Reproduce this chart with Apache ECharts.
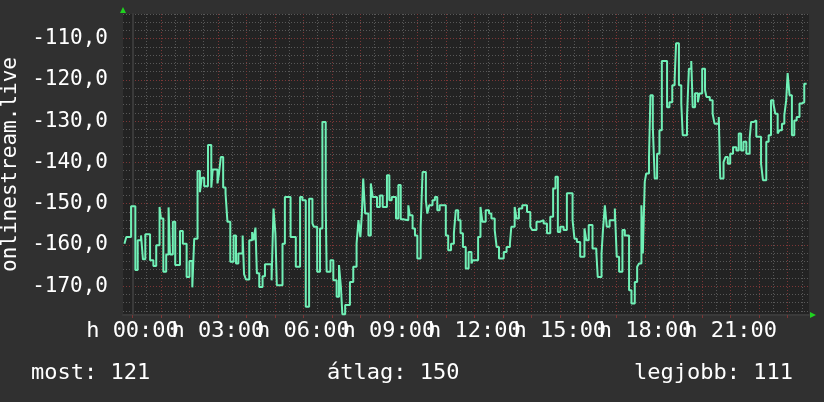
<!DOCTYPE html>
<html>
<head>
<meta charset="utf-8">
<script src="https://cdn.jsdelivr.net/npm/echarts@6/dist/echarts.min.js"></script>
<style>
html,body{margin:0;padding:0;background:#303030;}
#chart{width:824px;height:402px;}
</style>
</head>
<body>
<div id="chart"></div>
<script>
// ---- data (minutes after 00:00, value) ----
const sampleMinutes = [
  -17,-13,-3,6,11,18,22,27,37,44,50,57,60,65,71,76,79,85,90,100,
  106,114,120,126,130,137,142,146,151,159,166,169,179,182,186,191,196,200,206,213,
  218,223,232,235,239,246,252,255,259,262,267,274,279,293,297,301,304,316,321,333,
  344,353,358,365,372,379,382,389,395,400,407,409,417,423,430,435,439,442,448,458,
  465,472,476,480,483,486,490,497,502,506,515,521,527,536,541,546,555,560,565,570,
  581,584,590,595,600,607,611,618,621,625,632,637,642,647,660,665,671,677,681,686,
  691,696,702,708,714,717,728,733,737,744,751,756,763,767,772,782,788,795,798,805,
  809,814,821,831,838,842,851,858,866,873,880,886,891,896,901,908,915,927,931,936,
  943,952,956,961,969,977,980,988,991,995,999,1005,1016,1020,1025,1032,1037,1046,1051,1058,
  1063,1067,1072,1075,1079,1082,1088,1091,1096,1100,1105,1110,1115,1126,1131,1137,1142,1145,1151,1156,
  1159,1168,1172,1177,1180,1185,1191,1194,1200,1206,1209,1216,1222,1226,1235,1238,1245,1249,1254,1259,
  1265,1272,1277,1282,1287,1293,1300,1303,1308,1314,1324,1328,1335,1340,1345,1350,1354,1359,1363,1368,
  1373,1377,1380,1384,1389,1394,1399,1405,1410,1415,1420
];
const signal = [
  -159.7,-158.1,-150.6,-166.1,-158.9,-157.7,-163.5,-157.4,-163.7,-165.1,-160.1,-150.8,-153.6,-166.5,-162.3,-150.9,-162.3,-154.4,-164.9,-156.6,
  -159.7,-167.8,-163.9,-170.3,-158.5,-142.1,-147.2,-143.7,-145.8,-135.8,-146.1,-141.7,-145.1,-142.9,-138.7,-146.1,-147.5,-154.4,-164.1,-157.7,
  -164.5,-162.1,-157.7,-167.1,-168.4,-158.9,-156.9,-158.9,-155.8,-166.9,-170.2,-167.6,-164.7,-168.6,-151.2,-157.2,-169.8,-159.7,-148.4,-158.1,
  -165.3,-148.4,-149.2,-175.0,-148.8,-154.8,-155.6,-166.5,-156.0,-130.2,-150.0,-166.5,-163.7,-168.6,-172.6,-164.9,-170.2,-176.8,-174.6,-169.0,
  -165.3,-159.7,-154.0,-158.1,-152.8,-143.9,-152.4,-157.7,-145.1,-148.4,-150.8,-148.0,-150.8,-143.1,-149.2,-148.4,-153.6,-145.5,-153.8,-154.0,
  -150.4,-152.8,-156.0,-157.7,-163.3,-155.6,-142.3,-149.2,-152.4,-150.4,-149.2,-148.4,-151.6,-150.4,-157.7,-161.3,-159.7,-157.2,-151.6,-154.0,
  -157.2,-160.5,-165.7,-161.7,-164.5,-163.7,-158.1,-150.8,-154.4,-151.6,-152.4,-153.6,-156.4,-160.5,-163.3,-161.7,-160.5,-159.7,-155.6,-150.8,
  -153.6,-151.2,-150.4,-152.0,-155.6,-156.4,-154.4,-154.0,-154.8,-157.2,-153.2,-146.3,-143.5,-156.9,-155.6,-156.4,-147.5,-154.0,-158.5,-159.3,
  -162.9,-156.0,-158.9,-155.2,-160.9,-161.7,-167.8,-162.1,-156.4,-150.4,-155.6,-154.0,-151.2,-162.9,-166.5,-156.4,-157.7,-171.0,-174.2,-169.0,
  -165.3,-164.5,-150.4,-162.1,-144.7,-142.7,-138.7,-123.7,-131.4,-143.9,-137.9,-132.2,-115.4,-126.6,-125.4,-121.3,-119.7,-111.1,-121.3,-125.7,
  -133.4,-129.0,-117.3,-115.4,-126.6,-123.2,-125.4,-123.3,-117.3,-122.5,-124.1,-124.9,-128.2,-130.6,-129.0,-143.9,-139.9,-138.7,-140.3,-137.9,
  -136.3,-137.1,-133.0,-137.1,-135.0,-137.9,-134.2,-130.2,-129.8,-133.8,-140.3,-144.3,-135.0,-133.4,-124.9,-125.7,-128.2,-133.0,-132.2,-130.6,
  -128.6,-124.9,-118.3,-123.7,-133.4,-129.8,-129.0,-125.7,-125.4,-120.9,-120.9
];
const xTickMinutes = [0, 180, 360, 540, 720, 900, 1080, 1260];
const xTickLabels = ['h 00:00','h 03:00','h 06:00','h 09:00','h 12:00','h 15:00','h 18:00','h 21:00'];
const yTickValues = [-170, -160, -150, -140, -130, -120, -110];
const yTickLabels = ['-170,0','-160,0','-150,0','-140,0','-130,0','-120,0','-110,0'];
const yTitle = 'onlinestream.live';
const summaryLabels = ['most: 121', 'átlag: 150', 'legjobb: 111'];

// ---- axis scaffolding ----
const X_MIN = -20, X_MAX = 1425, X_STEP = 5;
const Y_MIN = -177, Y_MAX = -104;
const xSlots = [];
for (let m = X_MIN; m <= X_MAX; m += X_STEP) xSlots.push(String(m));
const ySlots = [];
for (let v = Y_MIN; v <= Y_MAX; v += 1) ySlots.push(String(v));

const FONT = '"DejaVu Sans Mono", monospace';
const MAJOR = '#7c3636';
const MINOR = '#585858';
const ARROW = '#1fd21f';
const AXIS = '#3a3a3a';

const seriesData = sampleMinutes.map((m, i) => [m, signal[i]]);

// labels split over two axes (alternating) so that neighbouring labels may overlap like the original
const labelOnAxis = (parity) => (i, v) => {
  const k = xTickMinutes.indexOf(+v);
  return k >= 0 && k % 2 === parity;
};
const labelText = (v) => { const k = xTickMinutes.indexOf(+v); return k >= 0 ? xTickLabels[k] : ''; };
const xLabelStyle = {color: '#ffffff', fontFamily: FONT, fontSize: 22, margin: 5, hideOverlap: false};

const chart = echarts.init(document.getElementById('chart'), null, {renderer: 'canvas'});
const summaryX = [31, 327, 634];

chart.setOption({
  animation: false,
  backgroundColor: '#303030',
  grid: {
    left: 123, top: 14, width: 686, height: 301,
    show: true, backgroundColor: '#232323', borderWidth: 0,
    containLabel: false, outerBoundsMode: 'none'
  },
  xAxis: [
    {
      type: 'category', data: xSlots, boundaryGap: false, position: 'bottom',
      axisLine: {show: true, lineStyle: {color: AXIS, width: 2}},
      axisTick: {show: true, length: 3, interval: (i, v) => (+v) % 60 === 0,
                 lineStyle: {color: MAJOR, width: 1}},
      axisLabel: Object.assign({show: true, interval: labelOnAxis(0), formatter: labelText}, xLabelStyle),
      splitLine: {show: true, interval: (i, v) => (+v) % 60 === 0,
                  lineStyle: {color: MAJOR, width: 1, type: [1, 2]}}
    },
    {
      type: 'category', data: xSlots, boundaryGap: false, position: 'bottom',
      axisLine: {show: false}, axisTick: {show: false},
      axisLabel: Object.assign({show: true, interval: labelOnAxis(1), formatter: labelText}, xLabelStyle),
      splitLine: {show: true, interval: (i, v) => (+v) % 30 === 0 && (+v) % 60 !== 0,
                  lineStyle: {color: MINOR, width: 1, type: [1, 2]}}
    },
    {
      type: 'value', min: X_MIN, max: X_MAX, position: 'bottom',
      axisLine: {show: true, symbol: ['none', 'triangle'], symbolSize: [6, 6], symbolOffset: [0, 4],
                 lineStyle: {color: ARROW, width: 0}},
      axisTick: {show: false}, axisLabel: {show: false}, splitLine: {show: false}
    }
  ],
  yAxis: [
    {
      type: 'category', data: ySlots, boundaryGap: false, position: 'left',
      name: yTitle, nameLocation: 'middle', nameGap: 93,
      nameTextStyle: {color: '#ffffff', fontFamily: FONT, fontSize: 21},
      axisLine: {show: true, lineStyle: {color: AXIS, width: 2}},
      axisTick: {show: false},
      axisLabel: {
        show: true, interval: (i, v) => yTickValues.indexOf(+v) >= 0,
        formatter: (v) => { const k = yTickValues.indexOf(+v); return k >= 0 ? yTickLabels[k] : ''; },
        color: '#ffffff', fontFamily: FONT, fontSize: 21, margin: 15, hideOverlap: false
      },
      splitLine: {show: true, interval: (i, v) => (+v) % 10 === 0,
                  lineStyle: {color: MAJOR, width: 1, type: [1, 2]}}
    },
    {
      type: 'category', data: ySlots, boundaryGap: false, position: 'left',
      axisLine: {show: false}, axisTick: {show: false}, axisLabel: {show: false},
      splitLine: {show: true, interval: (i, v) => (+v) % 2 === 0 && (+v) % 10 !== 0,
                  lineStyle: {color: MINOR, width: 1, type: [1, 2]}}
    },
    {
      type: 'value', min: Y_MIN, max: Y_MAX, position: 'left',
      axisLine: {show: true, symbol: ['none', 'triangle'], symbolSize: [6, 6], symbolOffset: [0, 4],
                 lineStyle: {color: ARROW, width: 0}},
      axisTick: {show: false}, axisLabel: {show: false}, splitLine: {show: false}
    }
  ],
  graphic: summaryLabels.map((t, i) => ({
    type: 'text', x: summaryX[i], y: 373,
    style: {text: t, fill: '#ffffff', font: '22px ' + FONT, verticalAlign: 'middle', align: 'left'}
  })),
  series: [{
    type: 'line', xAxisIndex: 2, yAxisIndex: 2,
    step: 'end', showSymbol: false, symbol: 'none',
    data: seriesData,
    lineStyle: {color: '#70f0b6', width: 2},
    z: 5
  }]
});
</script>
</body>
</html>
